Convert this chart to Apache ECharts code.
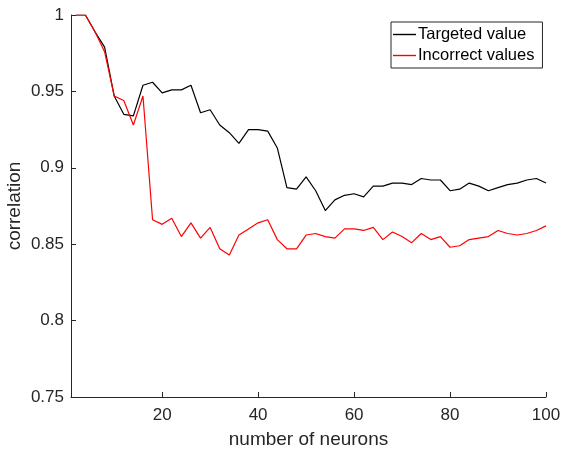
<!DOCTYPE html>
<html>
<head>
<meta charset="utf-8">
<script src="https://cdn.jsdelivr.net/npm/echarts@6/dist/echarts.min.js"></script>
<style>html,body{margin:0;padding:0;background:#fff}#c{width:563px;height:450px}</style>
</head>
<body>
<div id="c"></div>
<script>
var neurons = [2,4,6,8,10,12,14,16,18,20,22,24,26,28,30,32,34,36,38,40,42,44,46,48,50,52,54,56,58,60,62,64,66,68,70,72,74,76,78,80,82,84,86,88,90,92,94,96,98,100];
var targeted = [1.0,1.0,0.989,0.979,0.947,0.935,0.934,0.954,0.956,0.949,0.951,0.951,0.954,0.936,0.938,0.928,0.923,0.916,0.925,0.925,0.924,0.913,0.887,0.886,0.894,0.885,0.872,0.879,0.882,0.883,0.881,0.888,0.888,0.890,0.890,0.889,0.893,0.892,0.892,0.885,0.886,0.890,0.888,0.885,0.887,0.889,0.890,0.892,0.893,0.890];
var incorrect = [1.0,1.0,0.989,0.976,0.947,0.944,0.928,0.947,0.866,0.863,0.867,0.855,0.864,0.854,0.861,0.847,0.843,0.856,0.860,0.864,0.866,0.853,0.847,0.847,0.856,0.857,0.855,0.854,0.860,0.860,0.859,0.861,0.853,0.858,0.855,0.851,0.857,0.853,0.855,0.848,0.849,0.853,0.854,0.855,0.859,0.857,0.856,0.857,0.859,0.862];
var xTicks = [20,40,60,80,100];
var seriesNames = ['Targeted value','Incorrect values'];

function pairs(ys){ return neurons.map(function(x,i){ return [x, ys[i]]; }); }

var chart = echarts.init(document.getElementById('c'), null, {renderer:'canvas'});
var axisCol = '#262626';
var font = 'Liberation Sans, Arial, Helvetica, sans-serif';
chart.setOption({
  animation: false,
  backgroundColor: '#fff',
  grid: {left: 71, right: 17, top: 15, bottom: 53, containLabel: false, outerBoundsMode: 'none'},
  legend: {
    orient: 'vertical', left: 391, top: 22,
    data: seriesNames,
    backgroundColor: '#fff',
    borderColor: axisCol, borderWidth: 1,
    padding: [4, 8, 4, 2],
    icon: 'rect',
    itemWidth: 23, itemHeight: 1.4, itemGap: 4,
    textStyle: {fontFamily: font, fontSize: 16.5, color: '#000', padding: [0,0,0,-3], lineHeight: 17}
  },
  xAxis: {
    type: 'value', min: 1, max: 100,
    name: 'number of neurons', nameLocation: 'middle', nameGap: 33, nameMoveOverlap: false,
    nameTextStyle: {fontFamily: font, fontSize: 19, color: axisCol},
    axisLine: {show: true, lineStyle: {color: axisCol, width: 1}},
    axisTick: {show: true, inside: true, length: 5, customValues: xTicks, lineStyle: {color: axisCol}},
    axisLabel: {show: true, customValues: xTicks, margin: 10, fontFamily: font, fontSize: 17, color: axisCol},
    splitLine: {show: false}
  },
  yAxis: {
    type: 'value', min: 0.75, max: 1, interval: 0.05,
    name: 'correlation', nameLocation: 'middle', nameGap: 47, nameRotate: 90, nameMoveOverlap: false,
    nameTextStyle: {fontFamily: font, fontSize: 19, color: axisCol},
    axisLine: {show: true, lineStyle: {color: axisCol, width: 1}},
    axisTick: {show: true, inside: true, length: 5, lineStyle: {color: axisCol}},
    axisLabel: {margin: 7, fontFamily: font, fontSize: 17, color: axisCol,
      formatter: function(v){ return String(parseFloat(v.toFixed(2))); }},
    splitLine: {show: false}
  },
  series: [
    {name: seriesNames[0], type: 'line', data: pairs(targeted), symbol: 'none',
     lineStyle: {color: '#000', width: 1.2}, itemStyle: {color: '#000'}},
    {name: seriesNames[1], type: 'line', data: pairs(incorrect), symbol: 'none',
     lineStyle: {color: '#ff0000', width: 1.2}, itemStyle: {color: '#ff0000'}}
  ]
});
</script>
</body>
</html>
